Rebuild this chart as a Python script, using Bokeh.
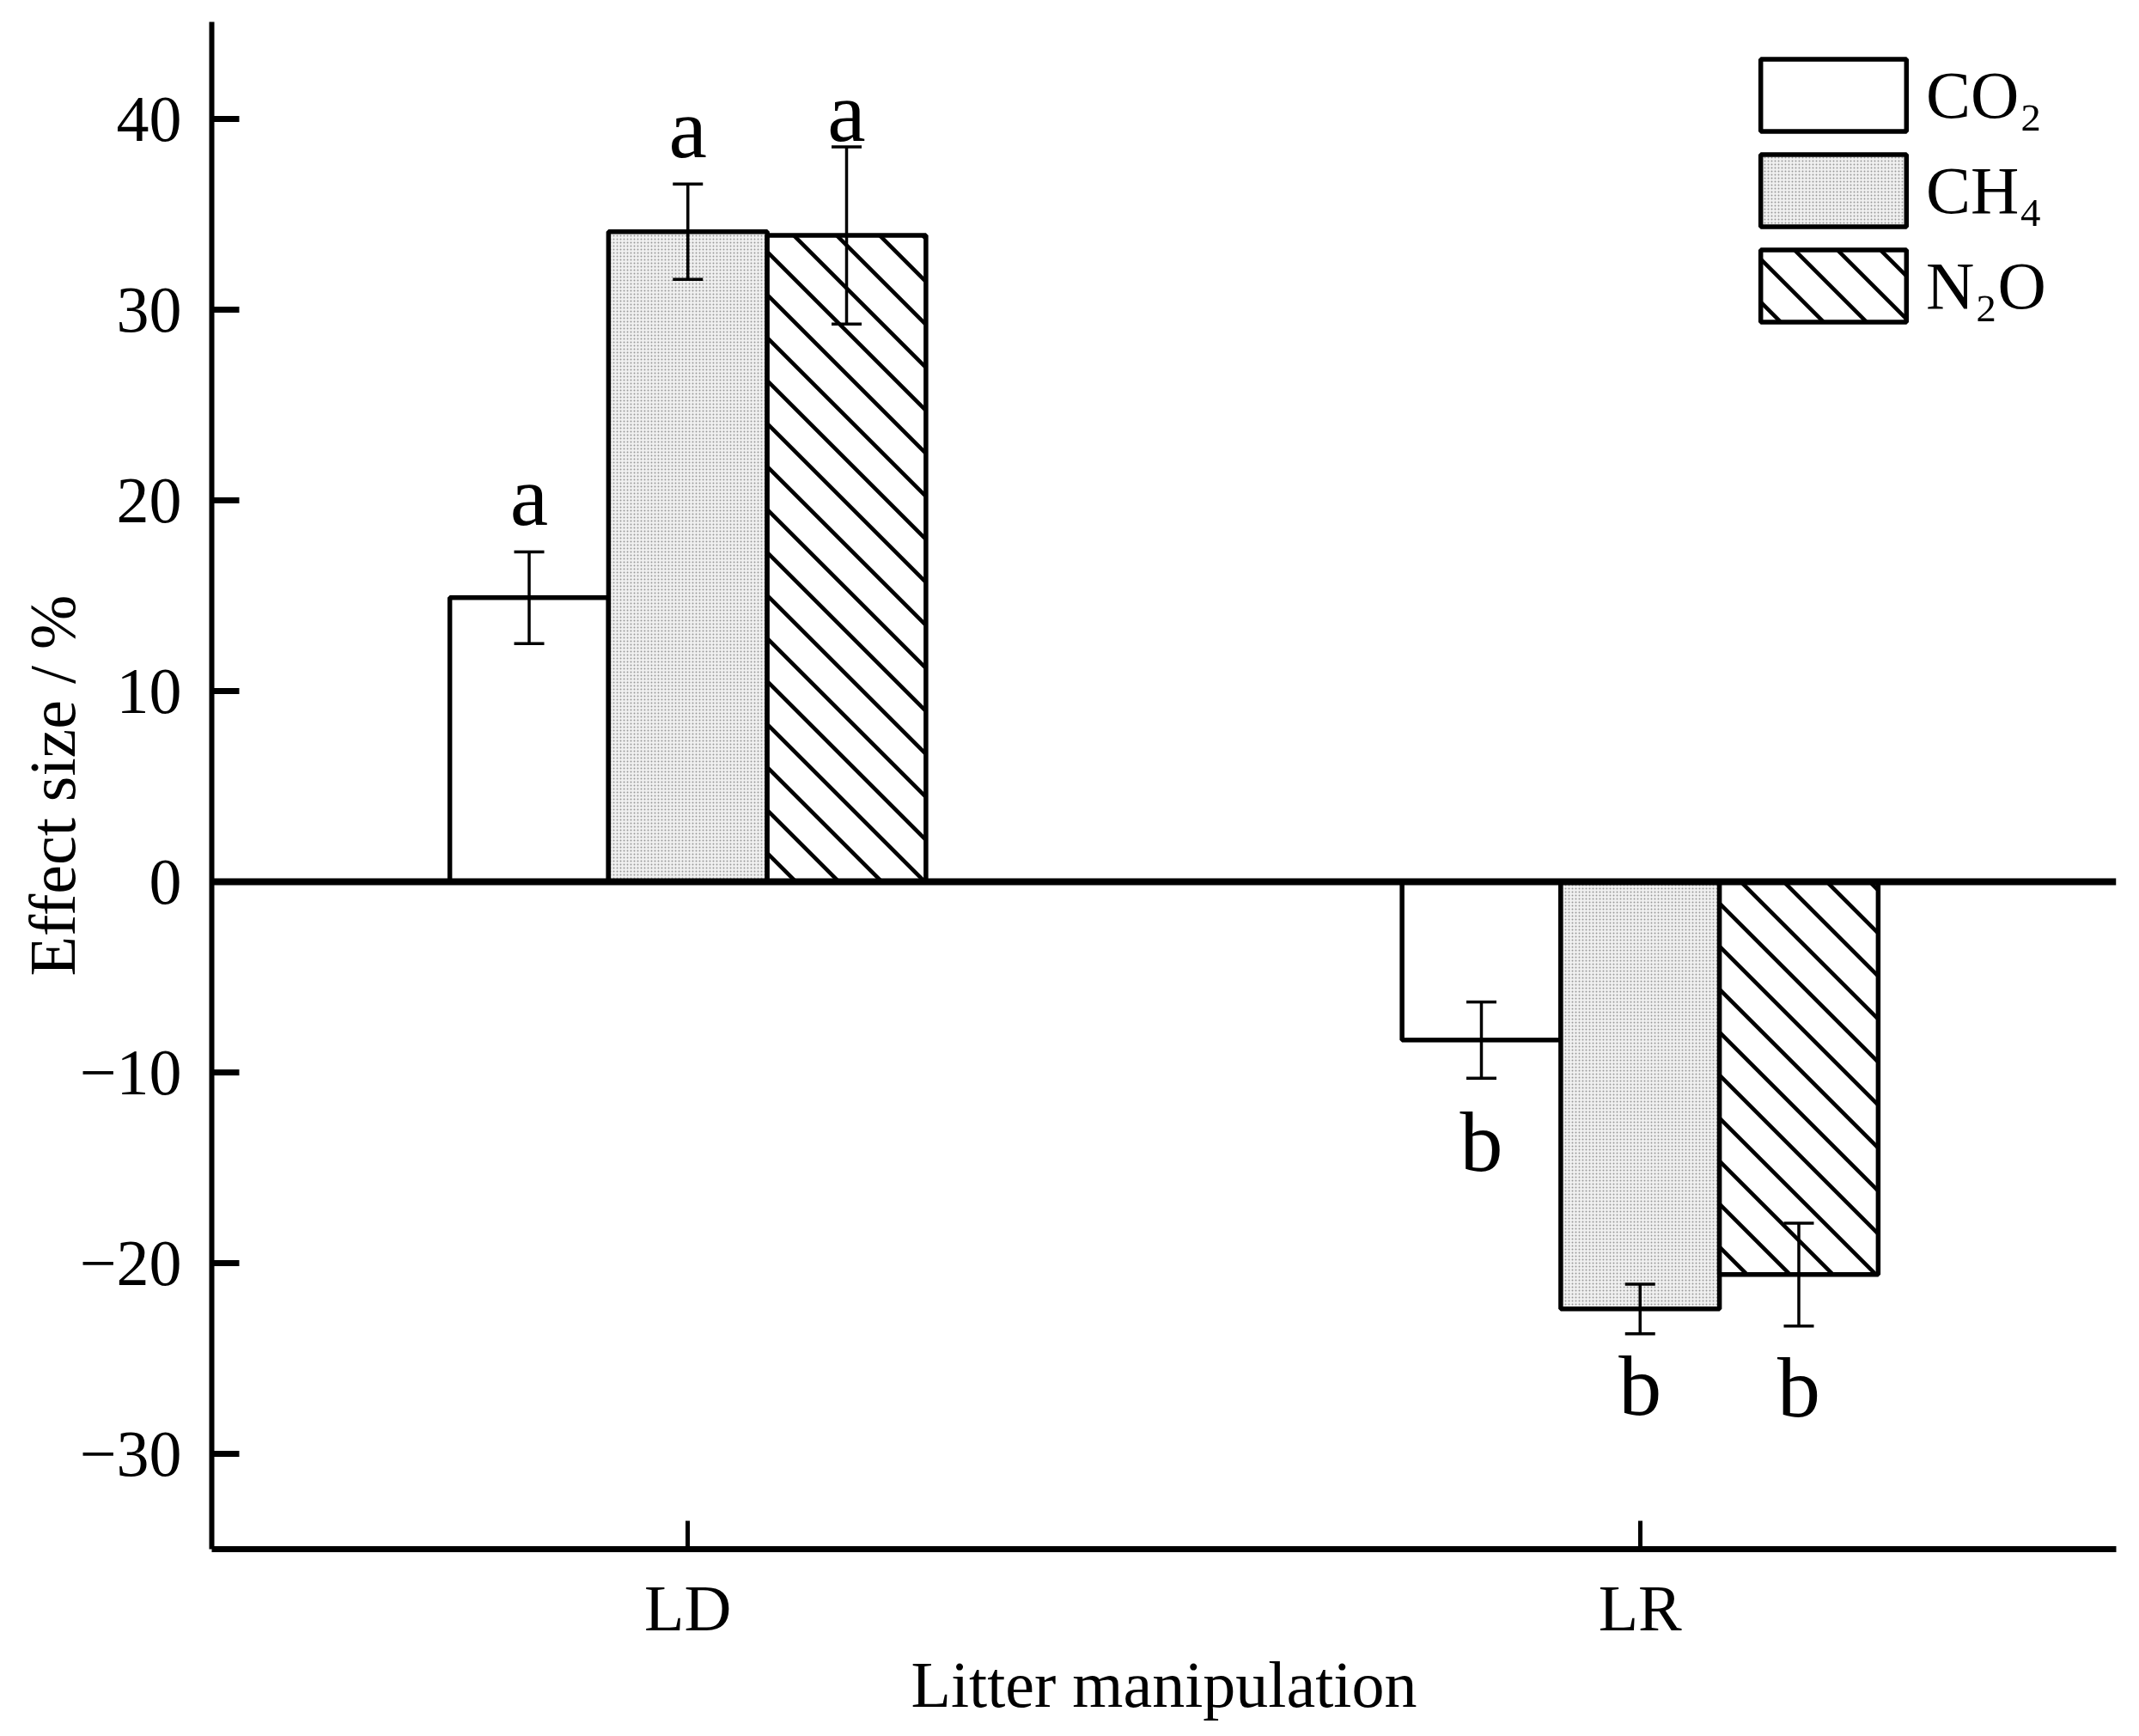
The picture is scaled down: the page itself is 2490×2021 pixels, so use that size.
import base64
from bokeh.plotting import figure
from bokeh.models import (ColumnDataSource, Whisker, TeeHead, Span, Legend, LegendItem,
                          FixedTicker, CustomJSTickFormatter, ImageURLTexture)
from bokeh.transform import dodge
from bokeh.core.properties import value
from bokeh.embed import file_html
from bokeh.resources import INLINE

# ---------------- data ----------------
categories = ["LD", "LR"]
gases = ["CO\u2082", "CH\u2084", "N\u2082O"]
co2 = [14.9, -8.3]
co2_err = [2.4, 2.0]
ch4 = [34.1, -22.4]
ch4_err = [2.5, 1.3]
n2o = [33.9, -20.6]
n2o_err = [4.65, 2.7]
co2_letters = ["a", "b"]
ch4_letters = ["a", "b"]
n2o_letters = ["a", "b"]
co2_letter_y = [18.55, -15.3]
ch4_letter_y = [37.85, -28.1]
n2o_letter_y = [38.7, -28.2]
y_ticks = [-30, -20, -10, 0, 10, 20, 30, 40]
x_label = "Litter manipulation"
y_label = "Effect size / %"

FONT = "Liberation Serif"

# 45-degree "\" hatch tile
T = 50
svg_tile = (
    f"<svg xmlns='http://www.w3.org/2000/svg' width='{T}' height='{T}'>"
    f"<path d='M0,0 L{T},{T} M-8,{T-8} L8,{T+8} M{T-8},-8 L{T+8},8' "
    f"stroke='black' stroke-width='4.6' fill='none'/></svg>"
)
tile_url = "data:image/svg+xml;base64," + base64.b64encode(svg_tile.encode()).decode()
diag_texture = ImageURLTexture(url=tile_url, repetition="repeat")

p = figure(width=2474, height=2005, x_range=categories, y_range=(-35, 45.1),
           output_backend="svg", toolbar_location=None,
           min_border_left=246, min_border_right=11, min_border_top=25, min_border_bottom=196)
p.background_fill_color = "white"
p.border_fill_color = "white"
p.outline_line_color = None
p.xgrid.visible = False
p.ygrid.visible = False

series = [
    (co2, co2_err, co2_letters, co2_letter_y, None,
     dict(fill_color="white")),
    (ch4, ch4_err, ch4_letters, ch4_letter_y, None,
     dict(fill_color="#f0f0f0", hatch_pattern="dot", hatch_color="#9a9a9a",
          hatch_scale=4, hatch_weight=1)),
    (n2o, n2o_err, n2o_letters, n2o_letter_y, "diag45",
     dict(fill_color="white", hatch_pattern="pat", hatch_extra={"diag45": diag_texture})),
]
offsets = [-1 / 6, 0, 1 / 6]

items = []
for (vals, errs, letters, ly, pat, style), off, name in zip(series, offsets, gases):
    data = dict(
        cat=categories, val=vals,
        upper=[v + e for v, e in zip(vals, errs)],
        lower=[v - e for v, e in zip(vals, errs)],
        letter=letters, ly=ly)
    if pat is not None:
        data["pat"] = [pat] * len(categories)
    src = ColumnDataSource(data)
    r = p.vbar(x=dodge("cat", off, range=p.x_range), top="val", bottom=0, width=1 / 6,
               source=src, line_color="black", line_width=5.5, **style)
    items.append(LegendItem(label=name, renderers=[r]))
    w = Whisker(base=dodge("cat", off, range=p.x_range), upper="upper", lower="lower",
                source=src, line_color="black", line_width=3.5, level="overlay",
                upper_head=TeeHead(size=35, line_width=3.5, line_color="black"),
                lower_head=TeeHead(size=35, line_width=3.5, line_color="black"))
    p.add_layout(w)
    p.text(x=dodge("cat", off, range=p.x_range), y="ly", text="letter", source=src,
           text_font=value(FONT), text_font_size="100px", text_align="center",
           text_baseline="alphabetic", text_color="black", y_offset=-37)

p.add_layout(Span(location=0, dimension="width", line_color="black", line_width=8))

legend = Legend(items=items, location=(1782, 1418), glyph_width=212, glyph_height=105,
                spacing=6, padding=0, margin=0, border_line_color=None,
                background_fill_alpha=0, label_text_font=FONT, label_text_color="black",
                label_text_font_size="78px", label_standoff=2)
p.add_layout(legend)

# axes
ya = p.yaxis[0]
ya.ticker = FixedTicker(ticks=y_ticks)
ya.formatter = CustomJSTickFormatter(
    code="return tick < 0 ? '\\u2212' + Math.abs(tick) : String(tick);")
ya.axis_line_width = 6
ya.major_tick_line_width = 7
ya.major_tick_in = 32
ya.major_tick_out = 0
ya.minor_tick_line_color = None
ya.major_label_standoff = 35
ya.major_label_text_font = FONT
ya.major_label_text_font_size = "76px"
ya.major_label_text_color = "black"
ya.axis_label = y_label
ya.axis_label_text_font = FONT
ya.axis_label_text_font_size = "76px"
ya.axis_label_text_font_style = "normal"
ya.axis_label_text_color = "black"
ya.axis_label_standoff = -13

xa = p.xaxis[0]
xa.axis_line_width = 7
xa.major_tick_line_width = 5
xa.major_tick_in = 33
xa.major_tick_out = 0
xa.minor_tick_line_color = None
xa.major_label_standoff = 26
xa.major_label_text_font = FONT
xa.major_label_text_font_size = "76px"
xa.major_label_text_color = "black"
xa.axis_label = x_label
xa.axis_label_text_font = FONT
xa.axis_label_text_font_size = "76px"
xa.axis_label_text_font_style = "normal"
xa.axis_label_text_color = "black"
xa.axis_label_standoff = 2

open("out.html", "w").write(file_html(p, INLINE))
